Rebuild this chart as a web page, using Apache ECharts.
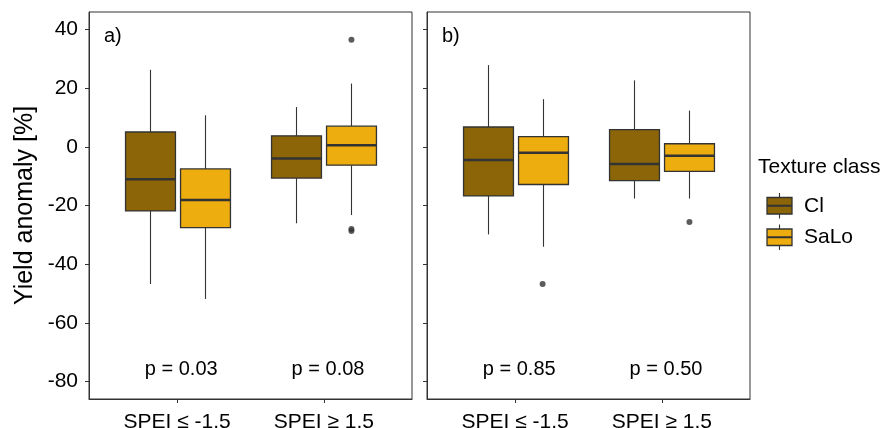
<!DOCTYPE html>
<html>
<head>
<meta charset="utf-8">
<script src="https://cdn.jsdelivr.net/npm/echarts@6/dist/echarts.min.js"></script>
<style>html,body{margin:0;padding:0;background:#fff;}#chart{width:887px;height:428px;}</style>
</head>
<body>
<div id="chart"></div>
<script>
// ---- data ----
const categories = ['SPEI ≤ -1.5', 'SPEI ≥ 1.5'];
const textureClasses = ['Cl', 'SaLo'];
const yTicks = [-80, -60, -40, -20, 0, 20, 40];
// each row: [lower whisker, Q1, median, Q3, upper whisker], one row per category
const aCl   = [[-46.7, -21.8, -11.0, 5.1, 26.3], [-26.0, -10.6, -3.9, 3.8, 13.6]];
const aSaLo = [[-51.8, -27.5, -18.1, -7.5, 10.8], [-23.2, -6.2, 0.6, 7.1, 21.6]];
const bCl   = [[-29.8, -16.7, -4.4, 6.8, 27.9], [-17.6, -11.5, -5.8, 5.9, 22.7]];
const bSaLo = [[-34.0, -12.8, -2.0, 3.5, 16.3], [-17.6, -8.3, -3.0, 1.1, 12.4]];
// outliers: [category index (1-based), value]
const aClOutliers = [];
const aSaLoOutliers = [[2, 36.5], [2, -28.0], [2, -28.6]];
const bClOutliers = [];
const bSaLoOutliers = [[1, -46.7], [2, -25.6]];
const pValuesA = ['p = 0.03', 'p = 0.08'];
const pValuesB = ['p = 0.85', 'p = 0.50'];
const pLabelY = -76;
const panelLabels = ['a)', 'b)'];
const yTitle = 'Yield anomaly [%]';
const legendTitle = 'Texture class';

// ---- styling ----
const FONT = "'Liberation Sans', Arial, sans-serif";
const colors = { Cl: '#8B6508', SaLo: '#EEAD0E' };
const LINE = '#333333';
const DODGE = 0.1875;
const BOX_W = 0.34;
const Y_MIN = -85.9, Y_MAX = 46.0;
const X_MIN = 0.4, X_MAX = 2.6;

function boxRenderer(color) {
  return function (params, api) {
    const x = api.value(0);
    const pLo = api.coord([x, api.value(1)]);
    const pQ1 = api.coord([x, api.value(2)]);
    const pMed = api.coord([x, api.value(3)]);
    const pQ3 = api.coord([x, api.value(4)]);
    const pHi = api.coord([x, api.value(5)]);
    const w = api.size([BOX_W, 0])[0];
    const cx = Math.round(pMed[0]) + 0.5;
    return {
      type: 'group',
      children: [
        { type: 'line', shape: { x1: cx, y1: pHi[1], x2: cx, y2: pQ3[1] }, style: { stroke: LINE, lineWidth: 1.1 } },
        { type: 'line', shape: { x1: cx, y1: pQ1[1], x2: cx, y2: pLo[1] }, style: { stroke: LINE, lineWidth: 1.1 } },
        { type: 'rect', shape: { x: cx - w / 2, y: pQ3[1], width: w, height: pQ1[1] - pQ3[1] },
          style: { fill: color, stroke: LINE, lineWidth: 1.3 } },
        { type: 'line', shape: { x1: cx - w / 2, y1: pMed[1], x2: cx + w / 2, y2: pMed[1] }, style: { stroke: LINE, lineWidth: 2.5 } }
      ]
    };
  };
}

function textRenderer(labels) {
  return function (params, api) {
    const p = api.coord([api.value(0), api.value(1)]);
    return {
      type: 'text',
      style: { text: labels[params.dataIndex], x: p[0], y: p[1], fill: '#000', font: '20px ' + FONT, align: 'center', verticalAlign: 'middle' }
    };
  };
}

function boxData(stats, offset) {
  return stats.map((s, i) => [i + 1 + offset].concat(s));
}
function outlierData(list, offset) {
  return list.map(o => [o[0] + offset, o[1]]);
}

const panels = [
  { cl: aCl, salo: aSaLo, clOut: aClOutliers, saloOut: aSaLoOutliers, p: pValuesA, left: 89, showYLabels: true },
  { cl: bCl, salo: bSaLo, clOut: bClOutliers, saloOut: bSaLoOutliers, p: pValuesB, left: 427, showYLabels: false }
];

const grid = [], xAxis = [], yAxis = [], series = [];
panels.forEach((pn, k) => {
  grid.push({ left: pn.left, top: 12, width: 323, height: 387, show: true, borderColor: LINE, borderWidth: 1,
    backgroundColor: 'transparent', containLabel: false, outerBoundsMode: 'none' });
  xAxis.push({
    type: 'value', gridIndex: k, min: X_MIN, max: X_MAX,
    splitLine: { show: false },
    axisLine: { show: true, onZero: false, lineStyle: { color: LINE } },
    axisTick: { show: true, customValues: [1, 2], length: 4, lineStyle: { color: LINE } },
    axisLabel: { show: true, customValues: [1, 2], margin: 13, color: '#000', fontSize: 21, fontFamily: FONT,
      formatter: v => categories[Math.round(v) - 1] || '' }
  });
  yAxis.push({
    type: 'value', gridIndex: k, min: Y_MIN, max: Y_MAX,
    splitLine: { show: false },
    axisLine: { show: true, onZero: false, lineStyle: { color: LINE } },
    axisTick: { show: true, customValues: yTicks, length: 4, lineStyle: { color: LINE } },
    axisLabel: { show: pn.showYLabels, customValues: yTicks, margin: 11, color: '#000', fontSize: 21, fontFamily: FONT },
    name: k === 0 ? yTitle : '', nameLocation: 'middle', nameGap: 51,
    nameTextStyle: { fontSize: 25, color: '#000', fontFamily: FONT }
  });
  series.push({ type: 'custom', name: textureClasses[0], xAxisIndex: k, yAxisIndex: k, renderItem: boxRenderer(colors.Cl),
    data: boxData(pn.cl, -DODGE), encode: { x: 0, y: [1, 2, 3, 4, 5] }, silent: true, animation: false });
  series.push({ type: 'custom', name: textureClasses[1], xAxisIndex: k, yAxisIndex: k, renderItem: boxRenderer(colors.SaLo),
    data: boxData(pn.salo, DODGE), encode: { x: 0, y: [1, 2, 3, 4, 5] }, silent: true, animation: false });
  series.push({ type: 'scatter', xAxisIndex: k, yAxisIndex: k, symbol: 'circle', symbolSize: 6,
    itemStyle: { color: LINE }, data: outlierData(pn.clOut, -DODGE).concat(outlierData(pn.saloOut, DODGE)), silent: true, animation: false });
  series.push({ type: 'custom', xAxisIndex: k, yAxisIndex: k, renderItem: textRenderer(pn.p), silent: true, animation: false,
    data: pn.p.map((t, i) => [i + 1 + 0.028, pLabelY]) });
});

const legendGraphics = [
  { type: 'text', left: 758, top: 157, style: { text: legendTitle, font: '21px ' + FONT, fill: '#000' } }
];
textureClasses.forEach((name, i) => {
  const yTop = 197.5 + i * 31.5;
  legendGraphics.push(
    { type: 'line', shape: { x1: 779.5, y1: yTop - 4.5, x2: 779.5, y2: yTop + 21 }, style: { stroke: LINE, lineWidth: 1.1 } },
    { type: 'rect', shape: { x: 767, y: yTop, width: 25, height: 16.5 }, style: { fill: colors[name], stroke: LINE, lineWidth: 1.3 } },
    { type: 'line', shape: { x1: 767, y1: yTop + 8.25, x2: 792, y2: yTop + 8.25 }, style: { stroke: LINE, lineWidth: 2 } },
    { type: 'text', left: 804, top: yTop - 2, style: { text: name, font: '21px ' + FONT, fill: '#000' } }
  );
});
legendGraphics.push(
  { type: 'text', left: 104, top: 26, style: { text: panelLabels[0], font: '20px ' + FONT, fill: '#000' } },
  { type: 'text', left: 442, top: 26, style: { text: panelLabels[1], font: '20px ' + FONT, fill: '#000' } }
);

const chart = echarts.init(document.getElementById('chart'));
chart.setOption({
  animation: false,
  backgroundColor: '#fff',
  grid, xAxis, yAxis, series,
  graphic: legendGraphics
});
</script>
</body>
</html>
